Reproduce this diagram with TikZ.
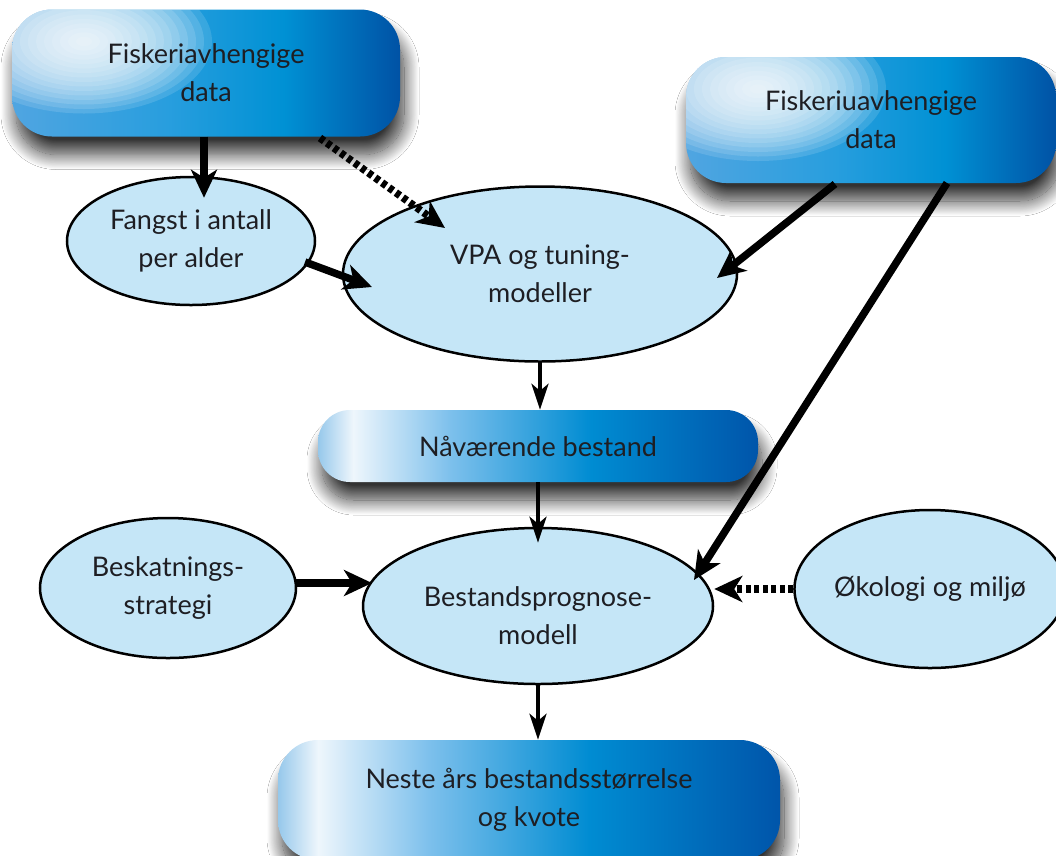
\documentclass[tikz,border=0pt]{standalone}
\usepackage{fontspec}
\setmainfont{Lato}
\usetikzlibrary{arrows.meta,calc,shapes.geometric,shadows.blur}
\definecolor{ellfill}{RGB}{197,230,247}
\definecolor{textc}{RGB}{30,30,35}
\definecolor{tA}{RGB}{80,165,225}
\definecolor{tB}{RGB}{40,158,222}
\definecolor{tC}{RGB}{0,145,212}
\definecolor{tD}{RGB}{0,82,165}
\definecolor{mA}{RGB}{150,200,235}
\definecolor{mW}{RGB}{238,246,252}
\definecolor{mB}{RGB}{125,192,236}
\definecolor{mC}{RGB}{0,140,210}
\definecolor{mD}{RGB}{0,85,170}
\pgfdeclarehorizontalshading{topshade}{100bp}{color(0bp)=(tA); color(25bp)=(tA); color(45bp)=(tB); color(60bp)=(tC); color(75bp)=(tD); color(100bp)=(tD)}
\pgfdeclarehorizontalshading{midshade}{100bp}{color(0bp)=(mA); color(25bp)=(mA); color(29bp)=(mW); color(40bp)=(mB); color(56bp)=(mC); color(75bp)=(mD); color(100bp)=(mD)}
\begin{document}
\begin{tikzpicture}[x=1pt,y=-1pt,
  txt/.style={font=\fontsize{27}{38}\selectfont, text=textc, align=center},
  ell/.style={ellipse, draw=black, line width=2.5pt, fill=ellfill, inner sep=0pt, txt},
  box/.style={inner sep=0pt, txt, shade,
     blur shadow={shadow xshift=4pt, shadow yshift=-18pt, shadow blur radius=15pt, shadow blur steps=24, shadow opacity=80}},
  topbox/.style={box, shading=topshade, rounded corners=40pt,
     path picture={\foreach \i in {1,...,16} {\fill[white, opacity=0.13]
        ([shift={(72pt,-32pt)}]path picture bounding box.north west) ellipse ({8pt*\i} and {4.5pt*\i});}}},
  midbox/.style={box, shading=midshade},
  thickarr/.style={line width=7.5pt, -{Stealth[length=28pt,width=26pt,inset=8pt]}},
  thinarr/.style={line width=4pt, -{Stealth[length=26pt,width=17pt,inset=7pt]}},
  dotarr/.style={thickarr, dash pattern=on 5pt off 3.5pt}
]
\useasboundingbox (0,0) rectangle (1056,855);
\fill[white] (0,0) rectangle (1056,855);

\node[topbox, minimum width=388pt, minimum height=127pt] (fd) at (206,73) {Fiskeriavhengige\\data};
\node[topbox, minimum width=370pt, minimum height=126pt] (fu) at (871,120) {Fiskeriuavhengige\\data};
\node[ell, minimum width=248pt, minimum height=128pt] (fangst) at (191,241) {Fangst i antall\\per alder};
\node[ell, minimum width=394pt, minimum height=175pt] (vpa) at (540,274) {VPA og tuning-\\modeller};
\node[midbox, rounded corners=32pt, minimum width=440pt, minimum height=72pt] (nb) at (538,446) {Nåværende bestand};
\node[ell, minimum width=256pt, minimum height=140pt] (besk) at (168,588) {Beskatnings-\\strategi};
\node[ell, minimum width=350pt, minimum height=156pt] (bp) at (538,606) {};
\node[txt] (bptext) at ($(bp)+(0,10)$) {Bestandsprognose-\\modell};
\node[ell, minimum width=270pt, minimum height=158pt] (oko) at (930,589) {Økologi og miljø};
\node[midbox, rounded corners=40pt, minimum width=502pt, minimum height=120pt] (ns) at (529,800) {Neste års bestandsstørrelse\\og kvote};

\draw[thickarr, shorten >=-22pt] ([xshift=-2pt]fd.south) -- ([xshift=-2pt]fd.south |- fangst.north);
\draw[dotarr] ($(fd)+(114,65)$) -- ($(vpa)+(-95,-46)$);
\draw[thickarr] ($(fangst)+(114,21)$) -- ($(vpa)+(-168,13)$);
\draw[thickarr] ($(fu)+(-36,64)$) -- ($(vpa)+(177,4)$);
\draw[thickarr] ($(fu)+(76,63)$) -- ($(bp)+(156,-26)$);
\draw[thinarr] (vpa.south) -- (vpa.south |- nb.north);
\draw[thinarr, shorten >=-16pt] (nb.south) -- (nb.south |- bp.north);
\draw[thickarr] ($(besk)+(128,-5)$) -- ($(bp)+(-166,-23)$);
\draw[dotarr] (oko.west) -- (oko.west -| bp.east);
\draw[thinarr] (bp.south) -- (bp.south |- ns.north);
\end{tikzpicture}
\end{document}
